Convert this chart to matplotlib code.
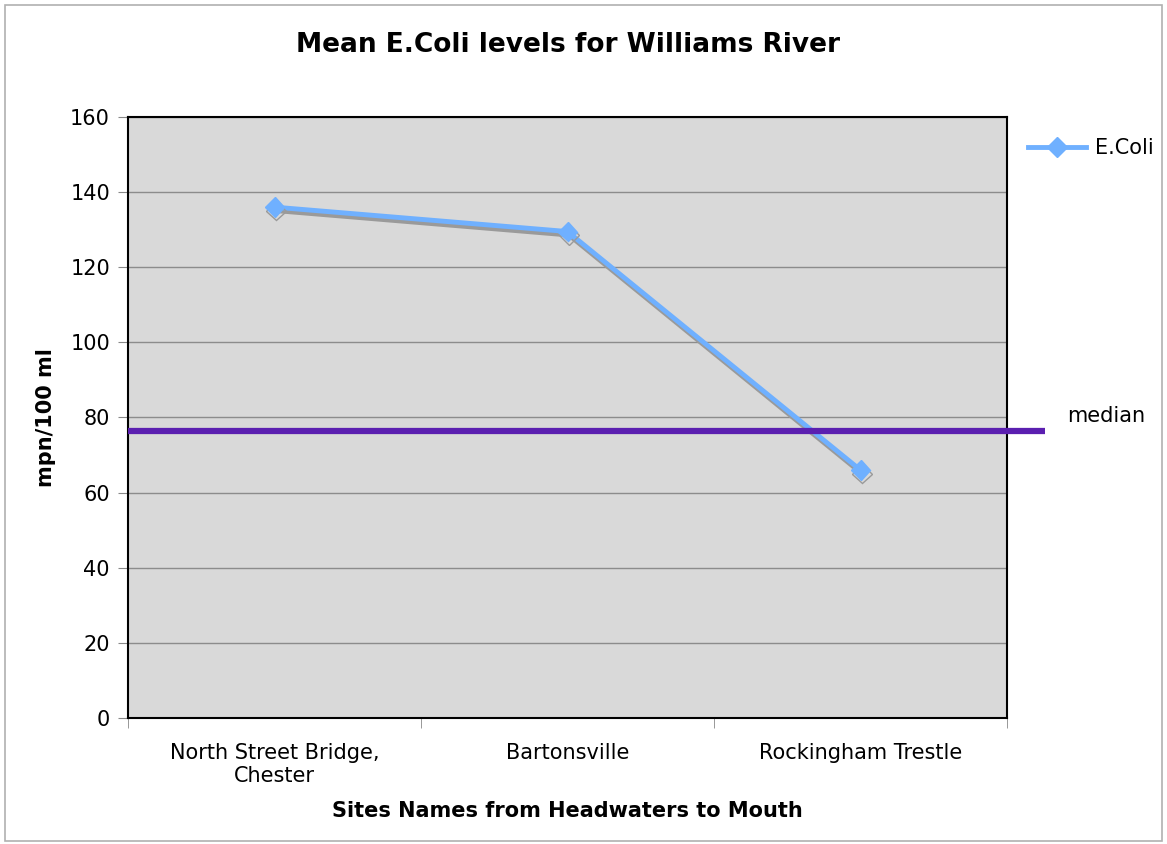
import matplotlib
matplotlib.use("Agg")
import matplotlib.pyplot as plt
import matplotlib.patheffects as pe
from matplotlib.patches import Rectangle
from matplotlib.lines import Line2D

sites = ["North Street Bridge,\nChester", "Bartonsville", "Rockingham Trestle"]
ecoli = [136, 129.5, 66]
median_val = 76.5

fig = plt.figure(figsize=(11.67, 8.44), dpi=100)
ax = fig.add_axes([0.1097, 0.1493, 0.7532, 0.7121])
ax.set_facecolor('#d9d9d9')

# outer frame of the chart
fig.patches.append(Rectangle((0.004, 0.004), 0.992, 0.99, transform=fig.transFigure,
                             fill=False, edgecolor='#b0b0b0', linewidth=1.2))

x = [0.5, 1.5, 2.5]
line_col = '#6fb0ff'
shadow = [pe.SimpleLineShadow(offset=(1, -2.5), shadow_color='#9a9a9a', alpha=1), pe.Normal()]
ax.plot(x, ecoli, color=line_col, linewidth=3.5, marker='D', markersize=10,
        path_effects=shadow, zorder=3)

# median line runs past the plot edge
ax.plot([0, 3.13], [median_val, median_val], color='#5b1fb0', linewidth=4.5,
        clip_on=False, solid_capstyle='butt', zorder=4)
ax.text(3.34, median_val + 1.2, 'median', fontsize=15, va='bottom', ha='center')

ax.set_xlim(0, 3)
ax.set_ylim(0, 160)
ax.set_yticks(range(0, 161, 20))
ax.yaxis.grid(True, color='#8c8c8c', linewidth=1)
ax.set_axisbelow(True)
ax.set_xticks(x)
ax.set_xticklabels(sites, fontsize=15)
ax.set_xticks([0, 1, 2, 3], minor=True)
ax.tick_params(axis='x', which='major', length=0, pad=18)
ax.tick_params(axis='x', which='minor', length=7, color='#888888')
ax.tick_params(axis='y', labelsize=15, length=7, color='#888888', pad=6)
for s in ax.spines.values():
    s.set_linewidth(1.5)

ax.set_ylabel('mpn/100 ml', fontsize=15, fontweight='bold', labelpad=10)
ax.set_xlabel('Sites Names from Headwaters to Mouth', fontsize=15, fontweight='bold', labelpad=11)
ax.set_title('Mean E.Coli levels for Williams River', fontsize=19, fontweight='bold', pad=47)

handle = Line2D([], [], color=line_col, linewidth=3.5, marker='D', markersize=10)
ax.legend([handle], ['E.Coli'], loc='upper left', bbox_to_anchor=(1.0, 1.0), frameon=False,
          fontsize=15, handlelength=2.8, handletextpad=0.4, borderaxespad=0.6)

plt.savefig("out.png", dpi=100)
